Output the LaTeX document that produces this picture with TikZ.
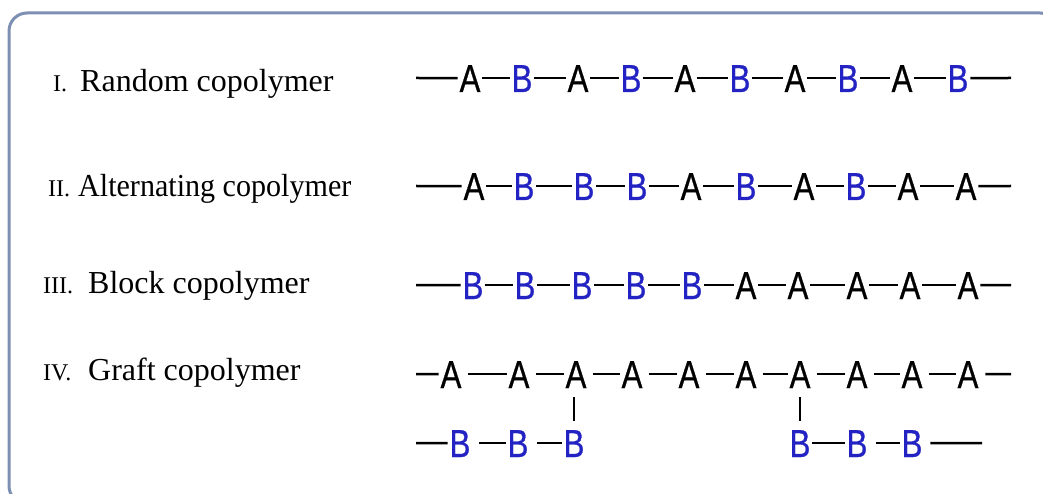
\documentclass[tikz,border=0pt]{standalone}
\usepackage{graphicx}
\usepackage{fontspec}
\setmainfont{Liberation Serif}
\newfontfamily\chainfont[FakeBold=0.8]{Liberation Sans}
\definecolor{framecol}{RGB}{125,144,180}
\definecolor{monoBcol}{RGB}{35,35,195}
\newcommand\mono[1]{\scalebox{0.8}[1]{#1}}
\begin{document}
\begin{tikzpicture}[x=1pt,y=-1pt,
  unit/.style={inner xsep=2pt, inner ysep=0pt, outer sep=0pt, text height=27.9pt, text depth=0pt, anchor=base, font=\chainfont\fontsize{39}{39}\selectfont},
  unitA/.style={unit, text=black},
  unitB/.style={unit, text=monoBcol},
  bond/.style={line width=2.5pt, black},
  tick/.style={line width=1.1pt, black},
  numeral/.style={anchor=base west, inner sep=0pt, font=\fontsize{24}{24}\selectfont},
  lbl/.style={anchor=base west, inner sep=0pt, font=\fontsize{32}{32}\selectfont}]
\useasboundingbox (0,0) rectangle (1043,494);
\clip (0,0) rectangle (1043,494);
\fill[white] (0,0) rectangle (1043,494);
\draw[framecol, line width=3pt, rounded corners=18pt] (9,13) rectangle (1058,504);

% labels
\node[numeral] (n1) at (53,92) {I.};
\node[lbl] (t1) at (80,92) {Random copolymer};
\node[numeral] (n2) at (48,197) {II.};
\node[lbl] (t2) at (78,197) {\scalebox{0.94}[1]{Alternating copolymer}};
\node[numeral] (n3) at (43,293) {III.};
\node[lbl] (t3) at (88,293) {Block copolymer};
\node[numeral] (n4) at (43,380) {IV.};
\node[lbl] (t4) at (88,380) {Graft copolymer};

% row 1
\foreach \x/\l [count=\i] in {470/A,522/B,578/A,631/B,685/A,740/B,795/A,848/B,902/A,958/B}
  \node[unit\l] (r1-\i) at (\x,92) {\mono{\l}};
\coordinate (r1s) at (416,78);
\coordinate (r1e) at (1011,78);
\draw[bond] (r1s) -- (r1-1);
\foreach \i [evaluate=\i as \j using int(\i+1)] in {1,...,9}
  \draw[bond] (r1-\i) -- (r1-\j);
\draw[bond] (r1-10) -- (r1e);

% row 2
\foreach \x/\l [count=\i] in {474/A,524/B,584/B,637/B,691/A,746/B,804/A,856/B,908/A,966/A}
  \node[unit\l] (r2-\i) at (\x,200) {\mono{\l}};
\coordinate (r2s) at (416,186);
\coordinate (r2e) at (1011,186);
\draw[bond] (r2s) -- (r2-1);
\foreach \i [evaluate=\i as \j using int(\i+1)] in {1,...,9}
  \draw[bond] (r2-\i) -- (r2-\j);
\draw[bond] (r2-10) -- (r2e);

% row 3
\foreach \x/\l [count=\i] in {473/B,525/B,582/B,636/B,692/B,746/A,798/A,857/A,910/A,968/A}
  \node[unit\l] (r3-\i) at (\x,299) {\mono{\l}};
\coordinate (r3s) at (416,285);
\coordinate (r3e) at (1011,285);
\draw[bond] (r3s) -- (r3-1);
\foreach \i [evaluate=\i as \j using int(\i+1)] in {1,...,9}
  \draw[bond] (r3-\i) -- (r3-\j);
\draw[bond] (r3-10) -- (r3e);

% row 4 (graft backbone)
\foreach \x [count=\i] in {451,519,576,632,689,746,800,857,912,968}
  \node[unitA] (r4-\i) at (\x,388) {\mono{A}};
\coordinate (r4s) at (416,374);
\coordinate (r4e) at (1011,374);
\draw[bond] (r4s) -- (r4-1);
\foreach \i [evaluate=\i as \j using int(\i+1)] in {1,...,9}
  \draw[bond] ([xshift=5pt]r4-\i.east) -- (r4-\j.west);
\draw[bond] ([xshift=5pt]r4-10.east) -- (r4e);

% grafted B branches
\foreach \x [count=\i] in {460,518,574,800,857,912}
  \node[unitB] (b-\i) at (\x,457) {\mono{B}};
\coordinate (bs) at (416,443);
\coordinate (be) at (982,443);
\draw[bond] (bs) -- (b-1);
\draw[bond] ([xshift=7pt]b-1.east) -- (b-2.west);
\draw[bond] ([xshift=7pt]b-2.east) -- (b-3.west);
\draw[bond] (b-4.east) -- (b-5.west);
\draw[bond] ([xshift=7pt]b-5.east) -- (b-6.west);
\draw[bond] ([xshift=6pt]b-6.east) -- (be);

% graft ticks
\draw[tick] ([yshift=-9pt]b-3.north |- r4-3.south) -- ([yshift=8pt]b-3.north);
\draw[tick] ([yshift=-9pt]b-4.north |- r4-7.south) -- ([yshift=8pt]b-4.north);
\end{tikzpicture}
\end{document}
